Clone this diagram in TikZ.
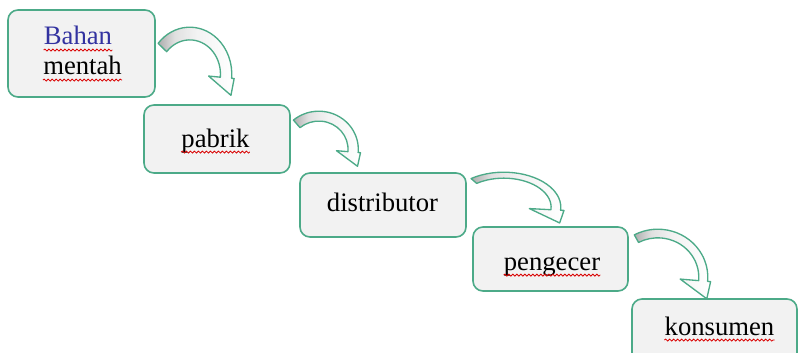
\documentclass[tikz,border=0pt]{standalone}
\usepackage{fontspec}
\setmainfont{Liberation Serif}
\usetikzlibrary{calc, decorations.pathmorphing}

\definecolor{boxline}{RGB}{76,170,136}
\definecolor{boxfill}{RGB}{242,242,242}
\definecolor{bahanblue}{RGB}{50,50,160}

\pgfdeclarehorizontalshading{arrowshade}{100bp}{color(0bp)=(black!32); color(25bp)=(black!32); color(36bp)=(black!12); color(50bp)=(black!5); color(75bp)=(white); color(100bp)=(white)}

% #1 centre, #2 x radius, #3 y radius, #4 start angle, #5 inner radius
\newcommand{\bentarrow}[5]{%
  \begin{scope}[shift={#1}, xscale=#2, yscale=-#3]
    \draw[arrowline, shade, shading=arrowshade]
      (#4:1) arc[start angle=#4, end angle=-5, radius=1]
      -- (-5:1.06) -- (0.98,-0.45) -- (-5:0.45)
      -- (-5:#5) arc[start angle=-5, end angle=#4, radius=#5] -- cycle;
  \end{scope}}

\tikzset{
  stage/.style={draw=boxline, fill=boxfill, line width=1.2pt, rounded corners=7.5pt},
  word/.style={inner sep=0pt, anchor=base, font=\fontsize{20}{23}\selectfont},
  arrowline/.style={draw=boxline, line width=1pt, line join=round},
  spellwave/.style={draw=red!85!black, line width=0.6pt,
    decorate, decoration={snake, segment length=3pt, amplitude=0.75pt}}
}

\begin{document}
\begin{tikzpicture}[x=0.75pt, y=-0.75pt]
    \useasboundingbox (0,0) rectangle (801,353);
    % supply chain stages
    \node[stage, minimum width=110.25pt, minimum height=65.25pt] (bahan) at (81.5,53.5) {};
    \node[stage, minimum width=109.5pt, minimum height=51pt] (pabrik) at (217,139) {};
    \node[stage, minimum width=124.5pt, minimum height=48pt] (distributor) at (383,205) {};
    \node[stage, minimum width=116.25pt, minimum height=48pt] (pengecer) at (550.5,259) {};
    \node[stage, minimum width=123.75pt, minimum height=48pt] (konsumen) at (714.5,331) {};

    \node[word, text=bahanblue] (bahanw) at (78,45) {Bahan};
    \node[word] (mentahw) at (82.5,75) {mentah};
    \node[word] (pabrikw) at (215.5,147) {pabrik};
    \node[word] (distributorw) at (382.5,212) {distributor};
    \node[word] (pengecerw) at (552,270) {pengecer};
    \node[word] (konsumenw) at (719.5,335) {konsumen};

    \foreach \w in {bahanw, mentahw, pabrikw, pengecerw, konsumenw}
        \draw[spellwave] ([yshift=-3.8pt]\w.base west) -- ([yshift=-3.8pt]\w.base east);

    \bentarrow{($(bahan.north east)+(34,65)$)}{42}{47}{139}{0.73}
    \bentarrow{($(pabrik.north east)+(28,45)$)}{39.5}{38}{130}{0.74}
    \bentarrow{($(distributor.north east)+(37,35)$)}{57}{35}{125}{0.83}
    \bentarrow{($(pengecer.north east)+(29,51)$)}{50}{48}{118}{0.82}
\end{tikzpicture}
\end{document}
